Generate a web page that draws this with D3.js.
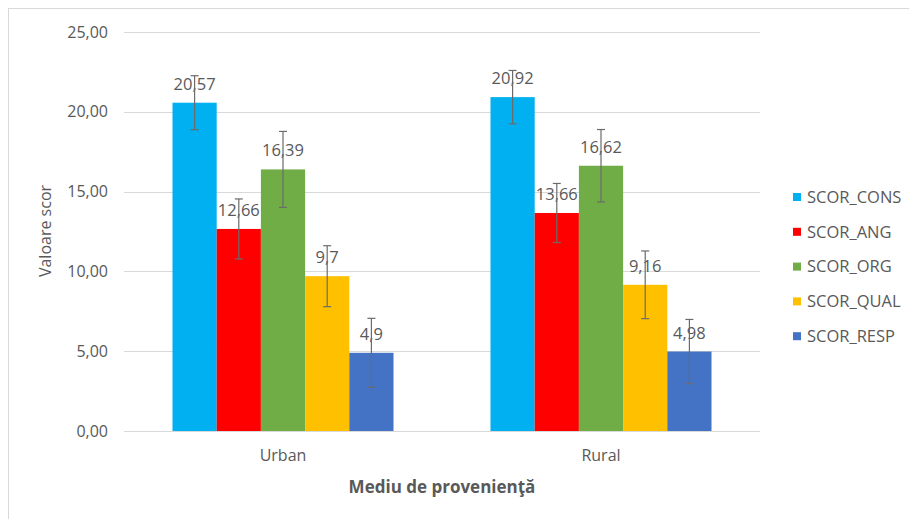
<!DOCTYPE html>
<html>
<head>
<meta charset="utf-8">
<script src="https://cdn.jsdelivr.net/npm/d3@7"></script>
<style>
  body { margin: 0; background: #fff; }
  svg text { font-family: "Open Sans", sans-serif; fill: #595959; }
</style>
</head>
<body>
<div id="chart"></div>
<script>
// data
const categories = ["Urban", "Rural"];
const series = ["SCOR_CONS", "SCOR_ANG", "SCOR_ORG", "SCOR_QUAL", "SCOR_RESP"];
const colors = ["#00B0F0", "#FF0000", "#70AD47", "#FFC000", "#4472C4"];
const urbanValues = [20.57, 12.66, 16.39, 9.7, 4.9];
const ruralValues = [20.92, 13.66, 16.62, 9.16, 4.98];
const urbanErrors = [1.69, 1.88, 2.38, 1.91, 2.16];
const ruralErrors = [1.67, 1.85, 2.27, 2.12, 2.01];
const yTicks = [0, 5, 10, 15, 20, 25];

const width = 909, height = 519;
const plot = { left: 124, right: 760, top: 32, bottom: 431 };

const svg = d3.select("#chart").append("svg")
    .attr("width", width)
    .attr("height", height);

// outer chart border (only top and left visible in the crop)
svg.append("rect")
    .attr("x", 8.5).attr("y", 8.5)
    .attr("width", width + 20).attr("height", height + 20)
    .attr("fill", "#fff")
    .attr("stroke", "#d9d9d9");

const y = d3.scaleLinear().domain([0, 25]).range([plot.bottom, plot.top]);
const x0 = d3.scaleBand().domain(categories)
    .range([plot.left, plot.right])
    .paddingInner(0.305).paddingOuter(0.1525);
const x1 = d3.scaleBand().domain(series).range([0, x0.bandwidth()]);
const color = d3.scaleOrdinal().domain(series).range(colors);

const fmt = v => String(v).replace(".", ",");

// gridlines
svg.append("g")
    .selectAll("line")
    .data(yTicks)
    .join("line")
    .attr("x1", plot.left).attr("x2", plot.right)
    .attr("y1", d => Math.round(y(d)) + 0.5).attr("y2", d => Math.round(y(d)) + 0.5)
    .attr("stroke", "#d9d9d9")
    .attr("stroke-width", 1);

// y axis labels
const yAxis = svg.append("g")
    .attr("transform", `translate(${plot.left},0)`)
    .call(d3.axisLeft(y).tickValues(yTicks).tickSize(0).tickPadding(16)
        .tickFormat(d => d3.format(".2f")(d).replace(".", ",")));
yAxis.select(".domain").remove();
yAxis.selectAll("text").style("font-size", "16px").attr("fill", "#595959")
    .style("font-family", '"Open Sans", sans-serif');

// rows for the bars
const rows = categories.map((c, i) => ({
    cat: c,
    items: series.map((s, j) => ({
        s,
        v: i === 0 ? urbanValues[j] : ruralValues[j],
        e: i === 0 ? urbanErrors[j] : ruralErrors[j]
    }))
}));

const groups = svg.append("g")
    .selectAll("g")
    .data(rows)
    .join("g")
    .attr("transform", d => `translate(${x0(d.cat)},0)`);

groups.selectAll("rect")
    .data(d => d.items)
    .join("rect")
    .attr("x", d => x1(d.s))
    .attr("y", d => y(d.v))
    .attr("width", x1.bandwidth())
    .attr("height", d => y(0) - y(d.v))
    .attr("fill", d => color(d.s));

// data labels
groups.selectAll("text.lbl")
    .data(d => d.items)
    .join("text")
    .attr("class", "lbl")
    .attr("x", d => x1(d.s) + x1.bandwidth() / 2)
    .attr("y", d => y(d.v) - 13)
    .attr("text-anchor", "middle")
    .style("font-size", "16.5px")
    .text(d => fmt(d.v));

// error bars
const err = groups.selectAll("g.err")
    .data(d => d.items)
    .join("g")
    .attr("class", "err")
    .attr("stroke", "#6b6b6b")
    .attr("stroke-width", 1.2);
err.append("line")
    .attr("x1", d => x1(d.s) + x1.bandwidth() / 2)
    .attr("x2", d => x1(d.s) + x1.bandwidth() / 2)
    .attr("y1", d => y(d.v + d.e))
    .attr("y2", d => y(d.v - d.e));
err.append("line")
    .attr("x1", d => x1(d.s) + x1.bandwidth() / 2 - 4)
    .attr("x2", d => x1(d.s) + x1.bandwidth() / 2 + 4)
    .attr("y1", d => y(d.v + d.e))
    .attr("y2", d => y(d.v + d.e));
err.append("line")
    .attr("x1", d => x1(d.s) + x1.bandwidth() / 2 - 4)
    .attr("x2", d => x1(d.s) + x1.bandwidth() / 2 + 4)
    .attr("y1", d => y(d.v - d.e))
    .attr("y2", d => y(d.v - d.e));

// x category labels
svg.append("g")
    .selectAll("text")
    .data(categories)
    .join("text")
    .attr("x", d => x0(d) + x0.bandwidth() / 2)
    .attr("y", 461)
    .attr("text-anchor", "middle")
    .style("font-size", "16px")
    .text(d => d);

// axis titles
svg.append("text")
    .attr("x", 442).attr("y", 493)
    .attr("text-anchor", "middle")
    .style("font-size", "17px")
    .style("font-weight", "bold")
    .text("Mediu de provenienţă");

svg.append("text")
    .attr("transform", "translate(51,231) rotate(-90)")
    .attr("text-anchor", "middle")
    .style("font-size", "16px")
    .text("Valoare scor");

// legend
const legend = svg.append("g")
    .selectAll("g")
    .data(series)
    .join("g")
    .attr("transform", (d, i) => `translate(793,${197 + i * 34.8})`);
legend.append("rect")
    .attr("x", 0).attr("y", -4)
    .attr("width", 8).attr("height", 8)
    .attr("fill", d => color(d));
legend.append("text")
    .attr("x", 14).attr("y", 0)
    .attr("dy", "0.35em")
    .style("font-size", "16.5px")
    .text(d => d);
</script>
</body>
</html>
